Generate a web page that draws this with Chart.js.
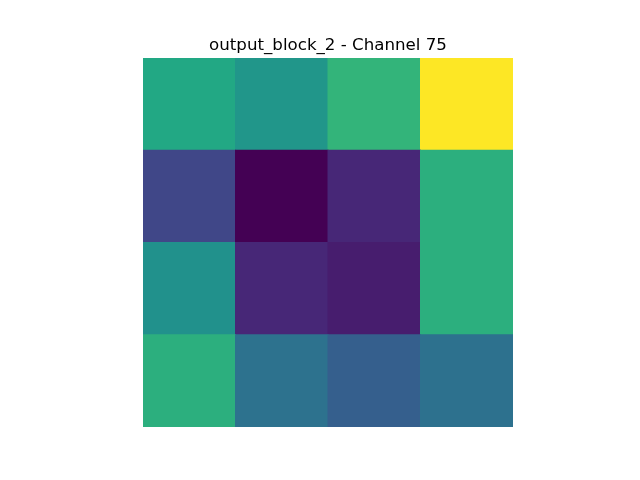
<!DOCTYPE html>
<html>
<head>
<meta charset="utf-8">
<script src="https://cdn.jsdelivr.net/npm/chart.js@4/dist/chart.umd.min.js"></script>
<style>html,body{margin:0;padding:0;background:#fff}#c{display:block}</style>
</head>
<body>
<canvas id="c" width="640" height="480"></canvas>
<script>
const titleText = "output_block_2 - Channel 75";
const columns = ["0", "1", "2", "3"];
// rows from top to bottom, values normalized to colormap range 0..1
const row0 = [0.60, 0.52, 0.65, 1.00];
const row1 = [0.21, 0.00, 0.11, 0.63];
const row2 = [0.50, 0.11, 0.08, 0.63];
const row3 = [0.63, 0.375, 0.30, 0.37];
const rows = [row0, row1, row2, row3];

const viridisStops = ["#440154","#482475","#414487","#355f8d","#2a788e","#21918c","#22a884","#44bf70","#7ad151","#bddf26","#fde725"];
function hex(h){return [parseInt(h.slice(1,3),16),parseInt(h.slice(3,5),16),parseInt(h.slice(5,7),16)];}
function viridis(v){
  v=Math.max(0,Math.min(1,v));
  const p=v*(viridisStops.length-1);
  const i=Math.min(Math.floor(p),viridisStops.length-2);
  const f=p-i;
  const a=hex(viridisStops[i]), b=hex(viridisStops[i+1]);
  const c=a.map((x,k)=>Math.round(x+(b[k]-x)*f));
  return `rgb(${c[0]},${c[1]},${c[2]})`;
}

// stacked bottom-up: dataset 0 is the bottom row
const datasets = rows.slice().reverse().map((r, idx) => ({
  label: "row" + (rows.length - 1 - idx),
  data: r.map(() => 1),
  backgroundColor: r.map(viridis),
  borderWidth: 0,
  inflateAmount: 0.5,
  barPercentage: 1.0,
  categoryPercentage: 1.0
}));

const titlePlugin = {
  id: 'titleText',
  afterDraw(chart){
    const ctx = chart.ctx;
    const area = chart.chartArea;
    ctx.save();
    ctx.font = '16.67px "DejaVu Sans"';
    ctx.fillStyle = '#000';
    ctx.textAlign = 'center';
    ctx.textBaseline = 'alphabetic';
    ctx.fillText(titleText, (area.left + area.right) / 2, 50);
    ctx.restore();
  }
};

new Chart(document.getElementById('c'), {
  type: 'bar',
  data: { labels: columns, datasets },
  options: {
    responsive: false,
    animation: false,
    layout: { padding: { left: 143, right: 127, top: 58, bottom: 53 } },
    plugins: { legend: { display: false }, title: { display: false }, tooltip: { enabled: false } },
    scales: {
      x: { display: false, stacked: true, grid: { display: false }, offset: true },
      y: { display: false, stacked: true, min: 0, max: 4, grid: { display: false } }
    }
  },
  plugins: [titlePlugin]
});
</script>
</body>
</html>
